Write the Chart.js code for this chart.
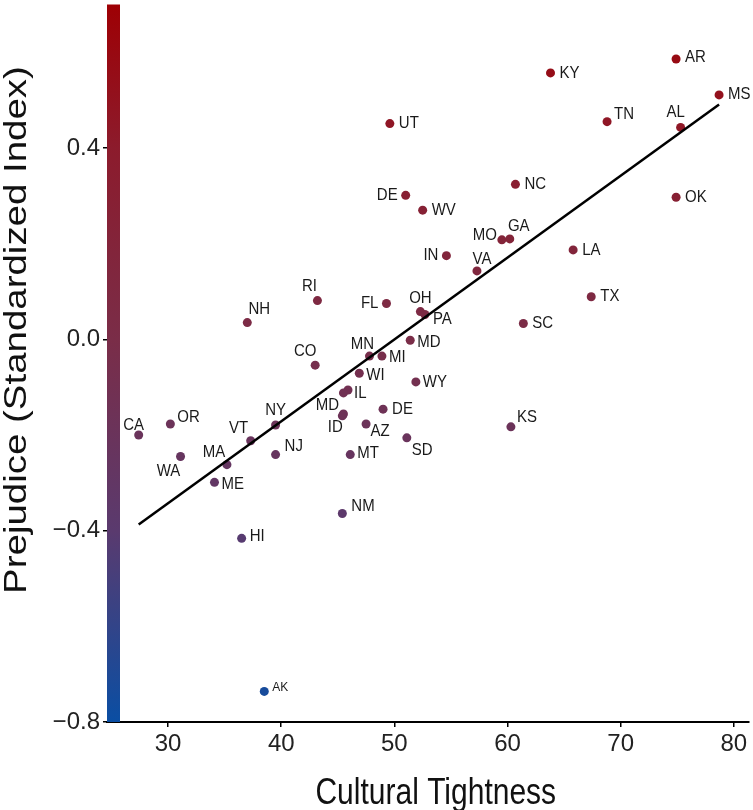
<!DOCTYPE html>
<html>
<head>
<meta charset="utf-8">
<script src="https://cdn.jsdelivr.net/npm/chart.js@4.4.0/dist/chart.umd.min.js"></script>
<style>
  html, body { margin: 0; padding: 0; background: #fff; }
</style>
</head>
<body>
<canvas id="chart" width="753" height="810"></canvas>
<script>
// state data
const states = ['AR', 'KY', 'MS', 'UT', 'TN', 'AL', 'NC', 'DE', 'WV', 'OK', 'MO', 'GA', 'IN', 'LA', 'VA', 'TX',
  'RI', 'FL', 'OH', 'PA', 'NH', 'SC', 'MD', 'MN', 'MI', 'CO', 'WI', 'WY', 'IL', '', 'MD', 'ID', 'DE', 'AZ',
  'SD', 'KS', 'CA', 'OR', 'WA', 'VT', 'NY', 'MA', 'ME', 'NJ', 'MT', 'NM', 'HI', 'AK'];
const tightness = [74.9, 63.8, 78.7, 49.6, 68.8, 75.3, 60.7, 51.0, 52.5, 74.9, 59.5, 60.2, 54.6, 65.8, 57.3, 67.4,
  43.2, 49.3, 52.3, 52.7, 37.0, 61.4, 51.4, 47.8, 48.9, 43.0, 46.9, 51.9, 45.9, 45.5, 45.5, 45.4, 49.0, 47.5,
  51.1, 60.3, 27.4, 30.2, 31.1, 37.3, 39.5, 35.2, 34.1, 39.5, 46.1, 45.4, 36.5, 38.5];
const prejudice = [0.586, 0.557, 0.511, 0.451, 0.455, 0.443, 0.324, 0.301, 0.270, 0.297, 0.208, 0.210, 0.175, 0.187, 0.143, 0.089,
  0.081, 0.075, 0.058, 0.052, 0.035, 0.033, -0.002, -0.035, -0.035, -0.054, -0.071, -0.089, -0.106, -0.112, -0.156, -0.160, -0.146, -0.177,
  -0.206, -0.183, -0.200, -0.177, -0.245, -0.212, -0.179, -0.262, -0.299, -0.241, -0.241, -0.364, -0.416, -0.736];

// fitted line ends
const fitX = [27.4, 78.7];
const fitY = [-0.387, 0.491];

const xTicks = [30, 40, 50, 60, 70, 80];
const yTicks = [-0.8, -0.4, 0.0, 0.4];

const xTitle = 'Cultural Tightness';
const yTitle = 'Prejudice (Standardized Index)';

// label placement around each point: [align, dx, dy]
const labelPlace = [
  ['l', 9, -2], ['l', 9, 0], ['l', 9, -1], ['l', 9, 0], ['l', 7, -7], ['c', -5, -15], ['l', 9, 0], ['r', -8, 0],
  ['l', 9, 0], ['l', 9, 0], ['r', -5, -4], ['c', 9, -13], ['r', -8, 0], ['l', 9, 0], ['c', 5, -12], ['l', 9, 0],
  ['c', -8, -14], ['r', -8, 0], ['c', 0, -13], ['l', 8, 5], ['c', 12, -13], ['l', 9, 0], ['l', 7, 2], ['c', -7, -12],
  ['l', 7, 1], ['c', -10, -14], ['l', 7, 2], ['l', 7, 0], ['l', 6, 3], ['l', 0, 0], ['c', -16, -9], ['c', -7, 11],
  ['l', 9, 0], ['c', 14, 7], ['l', 5, 12], ['c', 16, -10], ['c', -5, -10], ['l', 7, -7], ['c', -12, 15], ['c', -12, -12],
  ['c', 0, -15], ['c', -13, -12], ['l', 7, 2], ['l', 9, -8], ['l', 7, -1], ['l', 9, -7], ['l', 8, -2], ['l', 8, -4]
];

const FONT = "'Liberation Sans', Arial, sans-serif";
// the original figure is a little taller than wide, text is stretched to match
const STRETCH = 1.2;

// colour scale used for the bar and the points
const colorStops = [
  [0.7, [158, 0, 4]],
  [0.4, [140, 27, 44]],
  [0.0, [122, 45, 72]],
  [-0.4, [90, 58, 110]],
  [-0.8, [10, 78, 163]]
];

function colorFor(v) {
  for (let i = 0; i < colorStops.length - 1; i++) {
    const [v0, c0] = colorStops[i];
    const [v1, c1] = colorStops[i + 1];
    if (v <= v0 && v >= v1) {
      const t = (v0 - v) / (v0 - v1);
      const c = c0.map((a, k) => Math.round(a + (c1[k] - a) * t));
      return `rgb(${c[0]},${c[1]},${c[2]})`;
    }
  }
  const c = v > colorStops[0][0] ? colorStops[0][1] : colorStops[colorStops.length - 1][1];
  return `rgb(${c[0]},${c[1]},${c[2]})`;
}

const gradientBar = {
  id: 'gradientBar',
  beforeDatasetsDraw(chart) {
    const { ctx, chartArea } = chart;
    const y = chart.scales.y;
    const y0 = y.getPixelForValue(colorStops[0][0]);
    const y1 = y.getPixelForValue(colorStops[colorStops.length - 1][0]);
    const g = ctx.createLinearGradient(0, y0, 0, y1);
    colorStops.forEach(([v, c]) => {
      g.addColorStop((colorStops[0][0] - v) / (colorStops[0][0] - colorStops[colorStops.length - 1][0]),
        `rgb(${c[0]},${c[1]},${c[2]})`);
    });
    ctx.save();
    ctx.fillStyle = g;
    ctx.fillRect(chartArea.left, chartArea.top, 13, chartArea.bottom - chartArea.top);
    ctx.restore();
  }
};

const stateLabels = {
  id: 'stateLabels',
  afterDatasetsDraw(chart) {
    const { ctx } = chart;
    const meta = chart.getDatasetMeta(1);
    ctx.fillStyle = '#1a1a1a';
    meta.data.forEach((pt, i) => {
      const name = states[i];
      if (!name) return;
      const [al, dx, dy] = labelPlace[i];
      ctx.save();
      ctx.textBaseline = 'middle';
      ctx.font = (name === 'AK' ? '12px ' : '15px ') + FONT;
      ctx.textAlign = al === 'l' ? 'left' : al === 'r' ? 'right' : 'center';
      ctx.translate(pt.x + dx, pt.y + dy);
      ctx.scale(1, 1.12);
      ctx.fillText(name, 0, 0);
      ctx.restore();
    });
  }
};

const axisTitles = {
  id: 'axisTitles',
  afterDraw(chart) {
    const { ctx, chartArea } = chart;
    ctx.save();
    ctx.fillStyle = '#111';
    ctx.font = '30px ' + FONT;
    ctx.textAlign = 'center';
    ctx.textBaseline = 'middle';
    ctx.translate((chartArea.left + chartArea.right) / 2 + 8, 794);
    ctx.scale(1, STRETCH);
    ctx.fillText(xTitle, 0, 0);
    ctx.restore();

    ctx.save();
    ctx.fillStyle = '#111';
    ctx.font = '31px ' + FONT;
    ctx.textAlign = 'center';
    ctx.textBaseline = 'middle';
    ctx.translate(17, 330);
    ctx.rotate(-Math.PI / 2);
    ctx.scale(1.24, 1);
    ctx.fillText(yTitle, 0, 0);
    ctx.restore();
  }
};

const fmt = v => (v < 0 ? '\u2212' : '') + Math.abs(v).toFixed(1);

new Chart(document.getElementById('chart'), {
  type: 'scatter',
  data: {
    datasets: [
      {
        type: 'line',
        data: fitX.map((x, i) => ({ x: x, y: fitY[i] })),
        borderColor: '#000',
        borderWidth: 2.5,
        pointRadius: 0,
        fill: false,
        order: 0
      },
      {
        data: tightness.map((x, i) => ({ x: x, y: prejudice[i] })),
        pointRadius: 4.5,
        pointBorderWidth: 0,
        pointBackgroundColor: prejudice.map(colorFor),
        order: 1
      }
    ]
  },
  options: {
    responsive: false,
    animation: false,
    layout: { padding: { top: 1, right: 3, left: 0, bottom: 0 } },
    plugins: { legend: { display: false }, tooltip: { enabled: false } },
    scales: {
      x: {
        type: 'linear',
        min: 24.6,
        max: 81.3,
        afterBuildTicks: s => { s.ticks = xTicks.map(v => ({ value: v })); },
        afterFit: s => { s.height = 88; s.paddingLeft = 0; s.paddingRight = 0; },
        border: { display: true, color: '#000', width: 2 },
        grid: { display: true, drawOnChartArea: false, drawTicks: true, tickLength: 5, color: '#000', lineWidth: 1.5 },
        ticks: { font: { family: FONT, size: 24 }, color: '#222', padding: 3, maxRotation: 0 },
        title: { display: false }
      },
      y: {
        type: 'linear',
        min: -0.8,
        max: 0.7,
        afterBuildTicks: s => { s.ticks = yTicks.map(v => ({ value: v })); },
        afterFit: s => { s.width = 107; s.paddingTop = 0; s.paddingBottom = 0; },
        border: { display: false },
        grid: { display: true, drawOnChartArea: false, drawTicks: true, tickLength: 4, color: '#000', lineWidth: 1.5 },
        ticks: { font: { family: FONT, size: 24 }, color: '#222', padding: 3, callback: v => fmt(v) },
        title: { display: false }
      }
    }
  },
  plugins: [gradientBar, stateLabels, axisTitles]
});
</script>
</body>
</html>
